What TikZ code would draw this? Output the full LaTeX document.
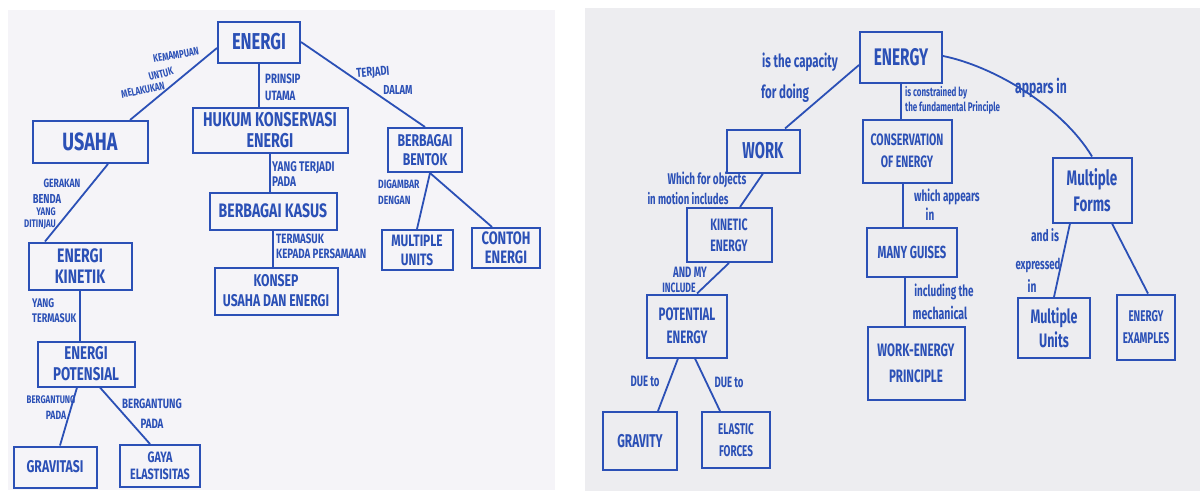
\documentclass[tikz,border=0pt]{standalone}
\usepackage{fontspec}
\setmainfont{Fira Sans}[FakeStretch=0.72]
\newfontfamily\lfam{Fira Sans}[FakeStretch=0.72]
\newfontfamily\rfam{Fira Sans}[FakeStretch=0.64]
\usetikzlibrary{calc}
\definecolor{ink}{RGB}{43,80,182}
\definecolor{paperL}{RGB}{245,244,248}
\definecolor{paperR}{RGB}{237,237,240}
\newcommand{\lF}[2]{\lfam\bfseries\fontsize{#1}{#2}\selectfont}
\newcommand{\rF}[2]{\rfam\bfseries\fontsize{#1}{#2}\selectfont}
\tikzset{
 box/.style={draw=ink, line width=2pt, text=ink, align=center, inner sep=0pt},
 lab/.style={text=ink, inner sep=0pt, align=left},
 link/.style={draw=ink, line width=1.8pt},
}
\begin{document}
\begin{tikzpicture}[x=1pt,y=-1pt]
\useasboundingbox (0,0) rectangle (1200,491);
\fill[white] (0,0) rectangle (1200,491);
\fill[paperL] (8,10) rectangle (555,490);
\fill[paperR] (585,8) rectangle (1200,491);

% ---------------- left map ----------------
\node[box,minimum width=82pt,minimum height=41pt,font=\lF{23}{25}] (energi) at (259,42) {ENERGI};
\node[box,minimum width=115pt,minimum height=42pt,font=\lF{25}{27}] (usaha) at (90,142) {USAHA};
\node[box,minimum width=155pt,minimum height=45pt,font=\lF{20}{21}] (hukum) at (270,130) {HUKUM KONSERVASI\\ENERGI};
\node[box,minimum width=127pt,minimum height=37pt,font=\lF{19.5}{21}] (kasus) at (273,211) {BERBAGAI KASUS};
\node[box,minimum width=123pt,minimum height=47pt,font=\lF{17}{20}] (konsep) at (276,291) {KONSEP\\USAHA DAN ENERGI};
\node[box,minimum width=74pt,minimum height=44pt,font=\lF{17}{19}] (bentuk) at (425,150) {BERBAGAI\\BENTOK};
\node[box,minimum width=71pt,minimum height=40pt,font=\lF{16.5}{19}] (munits) at (417,250) {MULTIPLE\\UNITS};
\node[box,minimum width=68pt,minimum height=40pt,font=\lF{18}{19}] (contoh) at (506,248) {CONTOH\\ENERGI};
\node[box,minimum width=103pt,minimum height=47pt,font=\lF{19.5}{21}] (kinetik) at (80,266) {ENERGI\\KINETIK};
\node[box,minimum width=97pt,minimum height=45pt,font=\lF{18.5}{21}] (potensial) at (86,364) {ENERGI\\POTENSIAL};
\node[box,minimum width=83pt,minimum height=41pt,font=\lF{17}{19}] (gravitasi) at (55,467) {GRAVITASI};
\node[box,minimum width=80pt,minimum height=42pt,font=\lF{15}{17}] (gaya) at (160,466) {GAYA\\ELASTISITAS};

\draw[link] ([yshift=-6pt]energi.west) -- ([xshift=40pt]usaha.north);
\draw[link] (energi.south) -- (energi.south |- hukum.north);
\draw[link] (energi.east) -- (bentuk.north);
\draw[link] (hukum.south) -- (hukum.south |- kasus.north);
\draw[link] (kasus.south) -- (kasus.south |- konsep.north);
\draw[link] ([xshift=5pt]bentuk.south) -- (munits.north);
\draw[link] ([xshift=5pt]bentuk.south) -- ([xshift=-14pt]contoh.north);
\draw[link] ([xshift=18pt]usaha.south) -- ([xshift=-35pt]kinetik.north);
\draw[link] (kinetik.south) -- (kinetik.south |- potensial.north);
\draw[link] ([xshift=-9pt]potensial.south) -- ([xshift=5pt]gravitasi.north);
\draw[link] ([xshift=14pt]potensial.south) -- ([xshift=-10pt]gaya.north);

\node[lab,font=\lF{11}{13},rotate=10] (lk1) at (176,55) {KEMAMPUAN};
\node[lab,font=\lF{11}{13},rotate=15] (lk2) at (161,74) {UNTUK};
\node[lab,font=\lF{11}{13},rotate=12] (lk3) at (143,90) {MELAKUKAN};
\node[lab,font=\lF{13.5}{17},anchor=north west] (lp) at (265,74) {PRINSIP\\UTAMA};
\node[lab,font=\lF{13}{15},rotate=5] (lt1) at (373,73) {TERJADI};
\node[lab,font=\lF{13}{15}] (lt2) at (398,90) {DALAM};
\node[lab,font=\lF{14}{15},anchor=north west] (ly) at (272,161) {YANG TERJADI\\PADA};
\node[lab,font=\lF{13.5}{15},anchor=north west] (lte) at (276,234) {TERMASUK\\KEPADA PERSAMAAN};
\node[lab,font=\lF{12}{16},anchor=north west] (ld) at (378,180) {DIGAMBAR\\DENGAN};
\node[lab,font=\lF{12}{14}] (lg1) at (62,183) {GERAKAN};
\node[lab,font=\lF{13}{15}] (lg2) at (47,199) {BENDA};
\node[lab,font=\lF{11}{13}] (lg3) at (46,212) {YANG};
\node[lab,font=\lF{11}{13}] (lg4) at (40,225) {DITINJAU};
\node[lab,font=\lF{12.5}{15},anchor=north west] (lyt) at (32,298) {YANG\\TERMASUK};
\node[lab,font=\lF{11}{13}] (lb1) at (51,400) {BERGANTUNG};
\node[lab,font=\lF{12}{14}] (lb2) at (56,415) {PADA};
\node[lab,font=\lF{13.5}{15}] (lb3) at (152,404) {BERGANTUNG};
\node[lab,font=\lF{13.5}{15}] (lb4) at (152,424) {PADA};

% ---------------- right map ----------------
\node[box,minimum width=82pt,minimum height=51pt,font=\rF{24}{26}] (energy) at (901,57) {ENERGY};
\node[box,minimum width=73pt,minimum height=43pt,font=\rF{23}{25}] (work) at (763,151) {WORK};
\node[box,minimum width=89pt,minimum height=63pt,font=\rF{16.5}{22}] (conserv) at (907,151) {CONSERVATION\\OF ENERGY};
\node[box,minimum width=79pt,minimum height=65pt,font=\rF{21}{26}] (mforms) at (1092,190) {Multiple\\Forms};
\node[box,minimum width=85pt,minimum height=54pt,font=\rF{16.5}{21}] (kinetic) at (729,235) {KINETIC\\ENERGY};
\node[box,minimum width=80pt,minimum height=63pt,font=\rF{18}{23}] (potential) at (687,326) {POTENTIAL\\ENERGY};
\node[box,minimum width=74pt,minimum height=58pt,font=\rF{18.5}{20}] (gravity) at (640,441) {GRAVITY};
\node[box,minimum width=68pt,minimum height=56pt,font=\rF{15.5}{22}] (elastic) at (736,440) {ELASTIC\\FORCES};
\node[box,minimum width=90pt,minimum height=49pt,font=\rF{17.5}{20}] (guises) at (912,252) {MANY GUISES};
\node[box,minimum width=97pt,minimum height=73pt,font=\rF{18}{26}] (weprin) at (916,363) {WORK-ENERGY\\PRINCIPLE};
\node[box,minimum width=72pt,minimum height=60pt,font=\rF{19.5}{24}] (munits2) at (1054,328) {Multiple\\Units};
\node[box,minimum width=58pt,minimum height=65pt,font=\rF{15.5}{22}] (examples) at (1146,327) {ENERGY\\EXAMPLES};

\draw[link] ([yshift=-8pt]energy.west) -- ([xshift=22pt]work.north);
\draw[link] (energy.south) -- (energy.south |- conserv.north);
\draw[link] ([yshift=1pt]energy.east) .. controls +(50,10) and +(-30,-50) .. (mforms.north);
\draw[link] (work.south) -- ([xshift=11pt]kinetic.north);
\draw[link] ([xshift=-4pt]conserv.south) -- ([xshift=-4pt]conserv.south |- guises.north);
\draw[link] ([xshift=-22pt]mforms.south) -- (munits2.north);
\draw[link] ([xshift=20pt]mforms.south) -- ([xshift=2pt]examples.north);
\draw[link] (kinetic.south) -- ([xshift=10pt]potential.north);
\draw[link] ([xshift=-7pt]guises.south) -- ([xshift=-7pt]guises.south |- weprin.north);
\draw[link] ([xshift=-9pt]potential.south) -- ([xshift=18pt]gravity.north);
\draw[link] ([xshift=8pt]potential.south) -- ([xshift=-16pt]elastic.north);

\node[lab,font=\rF{18}{19}] (r1a) at (800,62) {is the capacity};
\node[lab,font=\rF{18}{19}] (r1b) at (785,93) {for doing};
\node[lab,font=\rF{12.5}{15},anchor=north west] (r2) at (905,86) {is constrained by\\the fundamental Principle};
\node[lab,font=\rF{19}{20}] (r3) at (1041,88) {appars in};
\node[lab,font=\rF{15.5}{17}] (r4a) at (707,180) {Which for objects};
\node[lab,font=\rF{15}{17}] (r4b) at (688,199) {in motion includes};
\node[lab,font=\rF{15.5}{17}] (r5a) at (947,197) {which appears};
\node[lab,font=\rF{15.5}{17}] (r5b) at (930,214) {in};
\node[lab,font=\rF{16}{17}] (r6a) at (1045,235) {and is};
\node[lab,font=\rF{15}{17}] (r6b) at (1038,265) {expressed};
\node[lab,font=\rF{16}{17}] (r6c) at (1032,286) {in};
\node[lab,font=\rF{15}{16}] (r7a) at (690,272) {AND MY};
\node[lab,font=\rF{13.5}{15}] (r7b) at (679,288) {INCLUDE};
\node[lab,font=\rF{15.5}{17}] (r8a) at (944,292) {including the};
\node[lab,font=\rF{16.5}{18}] (r8b) at (940,313) {mechanical};
\node[lab,font=\rF{15}{16}] (r9a) at (645,381) {DUE to};
\node[lab,font=\rF{15}{16}] (r9b) at (729,382) {DUE to};
\end{tikzpicture}
\end{document}
